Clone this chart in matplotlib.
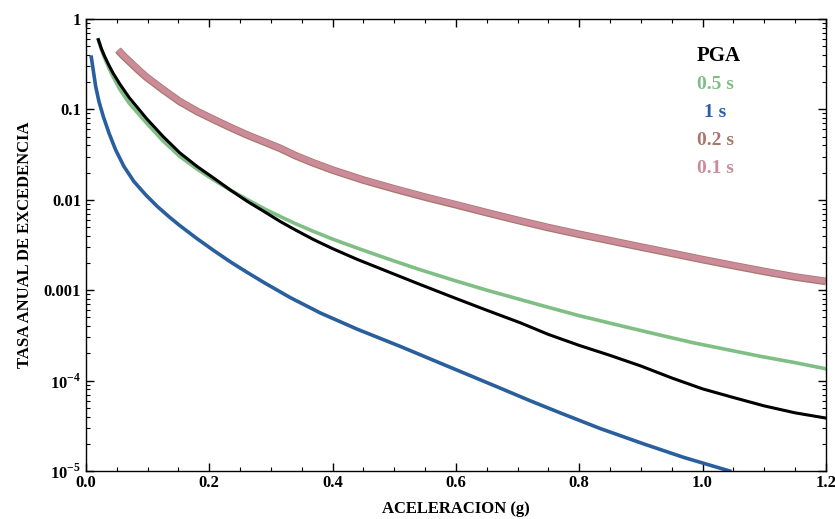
import numpy as np
import matplotlib.pyplot as plt
from matplotlib.ticker import FixedLocator, LogLocator, NullFormatter

plt.rcParams['font.family'] = ['Liberation Serif', 'DejaVu Serif']
plt.rcParams['font.weight'] = 'bold'
plt.rcParams['mathtext.fontset'] = 'custom'
plt.rcParams['mathtext.rm'] = 'Liberation Serif:bold'

# hazard curves (acceleration in g, annual exceedance rate)
a_pga = [0.02, 0.025, 0.03, 0.037, 0.044, 0.055, 0.07, 0.098, 0.125, 0.152, 0.18, 0.207, 0.235, 0.261,
         0.29, 0.315, 0.34, 0.369, 0.40, 0.44, 0.488, 0.54, 0.596, 0.65, 0.704, 0.75, 0.80, 0.85, 0.90,
         0.95, 1.0, 1.05, 1.1, 1.15, 1.2]
r_pga = [0.589, 0.468, 0.389, 0.309, 0.251, 0.19, 0.135, 0.0794, 0.0501, 0.0331, 0.0234, 0.0174,
         0.0127, 0.00966, 0.00733, 0.00575, 0.00462, 0.00363, 0.00288, 0.00219, 0.00162, 0.00117,
         8.3e-4, 6.0e-4, 4.37e-4, 3.24e-4, 2.45e-4, 1.9e-4, 1.45e-4, 1.07e-4, 8.1e-5, 6.5e-5,
         5.25e-5, 4.4e-5, 3.85e-5]

a_05 = [0.02, 0.025, 0.03, 0.037, 0.044, 0.055, 0.07, 0.098, 0.125, 0.152, 0.18, 0.207, 0.235, 0.261,
        0.29, 0.315, 0.34, 0.369, 0.40, 0.44, 0.488, 0.54, 0.596, 0.65, 0.704, 0.75, 0.801, 0.877, 0.93,
        0.985, 1.04, 1.093, 1.15, 1.2]
r_05 = [0.589, 0.457, 0.372, 0.288, 0.229, 0.166, 0.117, 0.0708, 0.0447, 0.0302, 0.0219, 0.0166,
        0.0127, 0.0101, 0.0079, 0.00653, 0.00543, 0.00447, 0.00367, 0.00292, 0.00224, 0.0017, 0.00129,
        0.001, 7.9e-4, 6.46e-4, 5.2e-4, 3.9e-4, 3.2e-4, 2.62e-4, 2.2e-4, 1.86e-4, 1.58e-4, 1.35e-4]

a_1 = [0.0086, 0.0157, 0.021, 0.0281, 0.0373, 0.048, 0.0616, 0.0778, 0.0968, 0.1157, 0.135, 0.152,
       0.18, 0.207, 0.235, 0.261, 0.29, 0.331, 0.38, 0.44, 0.509, 0.59, 0.671, 0.72, 0.769, 0.834,
       0.904, 0.97, 1.044]
r_1 = [0.377, 0.179, 0.122, 0.0832, 0.0546, 0.0357, 0.0233, 0.0159, 0.01135, 0.00843, 0.00646,
       0.00519, 0.00372, 0.00275, 0.00204, 0.00158, 0.0012, 8.3e-4, 5.6e-4, 3.7e-4, 2.4e-4, 1.41e-4,
       8.3e-5, 6.0e-5, 4.4e-5, 2.95e-5, 2.0e-5, 1.41e-5, 1.0e-5]

a_02 = [0.052, 0.06, 0.07, 0.085, 0.098, 0.125, 0.152, 0.18, 0.207, 0.235, 0.261, 0.29, 0.315, 0.34,
        0.369, 0.40, 0.45, 0.5, 0.55, 0.6, 0.65, 0.7, 0.75, 0.8, 0.85, 0.9, 0.95, 1.0, 1.05, 1.1,
        1.15, 1.2]
r_02 = [0.452, 0.394, 0.34, 0.272, 0.227, 0.165, 0.122, 0.095, 0.0772, 0.0627, 0.0522, 0.0434,
        0.037, 0.0307, 0.0255, 0.0213, 0.0165, 0.0132, 0.0107, 0.0088, 0.0072, 0.00593, 0.00492,
        0.00415, 0.00353, 0.003, 0.00256, 0.00218, 0.00187, 0.00161, 0.0014, 0.00125]

a_01 = [0.052, 0.06, 0.07, 0.085, 0.098, 0.125, 0.152, 0.18, 0.207, 0.235, 0.261, 0.29, 0.315, 0.34,
        0.369, 0.40, 0.45, 0.5, 0.55, 0.6, 0.65, 0.7, 0.75, 0.8, 0.85, 0.9, 0.95, 1.0, 1.05, 1.1,
        1.15, 1.2]
r_01 = [0.457, 0.398, 0.343, 0.275, 0.229, 0.166, 0.123, 0.0955, 0.0776, 0.0631, 0.0525, 0.0437,
        0.0372, 0.0309, 0.0257, 0.0214, 0.0166, 0.0133, 0.0108, 0.0089, 0.00724, 0.00596, 0.00495,
        0.00417, 0.00355, 0.00302, 0.00257, 0.00219, 0.00188, 0.00162, 0.00141, 0.00126]

labels = ['PGA', '0.5 s', '1 s', '0.2 s', '0.1 s']
colors = ['black', '#7fbf85', '#2a5f9e', '#a9786a', '#cc8b9a']
ytick_vals = [1e-5, 1e-4, 1e-3, 1e-2, 1e-1, 1]
ytick_txt = ['$10^{-5}$', '$10^{-4}$', '0.001', '0.01', '0.1', '1']

fig = plt.figure(figsize=(8.35, 5.19), dpi=100)
ax = fig.add_axes([0.103, 0.0925, 0.886, 0.871])

ax.plot(a_02, r_02, color=colors[3], lw=5.5, solid_capstyle='butt', solid_joinstyle='round')
ax.plot(a_01, r_01, color=colors[4], lw=4, solid_capstyle='butt', solid_joinstyle='round')
ax.plot(a_05, r_05, color=colors[1], lw=2.6, solid_joinstyle='round')
ax.plot(a_pga, r_pga, color=colors[0], lw=2.2, solid_joinstyle='round')
ax.plot(a_1, r_1, color=colors[2], lw=2.6, solid_joinstyle='round')

ax.set_yscale('log')
ax.set_xlim(0, 1.2)
ax.set_ylim(1e-5, 1)
ax.set_xticks([0.0, 0.2, 0.4, 0.6, 0.8, 1.0, 1.2])
ax.set_xticklabels(['0.0', '0.2', '0.4', '0.6', '0.8', '1.0', '1.2'])
ax.xaxis.set_minor_locator(FixedLocator(np.arange(0, 1.21, 0.05)))
ax.set_yticks(ytick_vals)
ax.set_yticklabels(ytick_txt)
ax.yaxis.set_minor_locator(LogLocator(base=10, subs=np.arange(2, 10)))
ax.yaxis.set_minor_formatter(NullFormatter())
ax.tick_params(which='both', direction='in', top=True, right=True, labelsize=12)
ax.tick_params(which='major', length=6, width=1)
ax.tick_params(which='minor', length=3, width=0.8)
ax.tick_params(axis='x', pad=3)
for s in ax.spines.values():
    s.set_linewidth(1)

ax.set_xlabel('ACELERACION (g)', fontsize=12, fontweight='bold', labelpad=7)
ax.set_ylabel('TASA ANUAL DE EXCEDENCIA', fontsize=12, fontweight='bold', labelpad=8)

for i, (lab, col) in enumerate(zip(labels, colors)):
    fs = 15 if i == 0 else 14
    ax.text(0.826 + (0.01 if lab == '1 s' else 0), 0.918 - i * 0.062, lab, color=col,
            fontsize=fs, fontweight='bold', transform=ax.transAxes, va='center', ha='left')

fig.savefig('out.png', dpi=100)
